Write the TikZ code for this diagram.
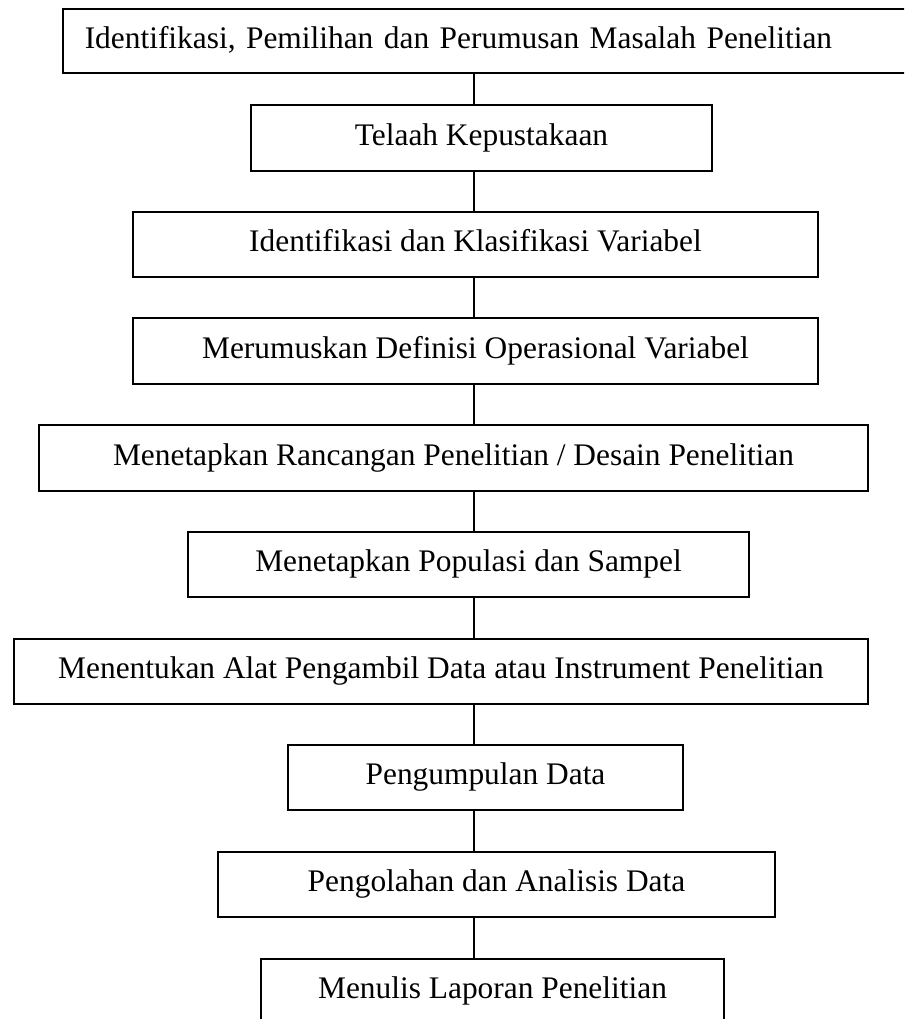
\documentclass[tikz,border=0pt]{standalone}
\usepackage{fontspec}
\setmainfont{Liberation Serif}
\begin{document}
\begin{tikzpicture}[x=1pt,y=-1pt,
  box/.style={draw, line width=1.5pt, fill=white, inner sep=0pt,
    font=\fontsize{31.4}{38}\selectfont, text height=21.4pt, text depth=7pt},
  conn/.style={draw, line width=1.2pt}]
\clip (0,0) rectangle (904,1019);
\fill[white] (0,0) rectangle (904,1019);
\coordinate (spine) at (474,0);
\node[box, anchor=west, minimum width=878pt, minimum height=64pt, text width=834pt, align=left] (b1) at (62,41) {Identifikasi, Pemilihan dan Perumusan Masalah Penelitian};
\node[box, minimum width=461pt, minimum height=66pt] (b2) at (481.5,138) {Telaah Kepustakaan};
\node[box, minimum width=685pt, minimum height=65pt] (b3) at (475.5,244.5) {Identifikasi dan Klasifikasi Variabel};
\node[box, minimum width=685pt, minimum height=66pt] (b4) at (475.5,351) {Merumuskan Definisi Operasional Variabel};
\node[box, minimum width=829pt, minimum height=66pt] (b5) at (453.5,458) {Menetapkan Rancangan Penelitian / Desain Penelitian};
\node[box, minimum width=561pt, minimum height=65pt] (b6) at (468.5,564.5) {Menetapkan Populasi dan Sampel};
\node[box, minimum width=854pt, minimum height=65pt] (b7) at (441,671.5) {Menentukan Alat Pengambil Data atau Instrument Penelitian};
\node[box, minimum width=395pt, minimum height=65pt] (b8) at (485.5,777.5) {Pengumpulan Data};
\node[box, minimum width=557pt, minimum height=65pt] (b9) at (496.5,884.5) {Pengolahan dan Analisis Data};
\node[box, minimum width=463pt, minimum height=65pt] (b10) at (492.5,991.5) {Menulis Laporan Penelitian};
\foreach \a/\b in {b1/b2,b2/b3,b3/b4,b4/b5,b5/b6,b6/b7,b7/b8,b8/b9,b9/b10}
  \draw[conn] (\a.south -| spine) -- (\b.north -| spine);
\end{tikzpicture}
\end{document}
